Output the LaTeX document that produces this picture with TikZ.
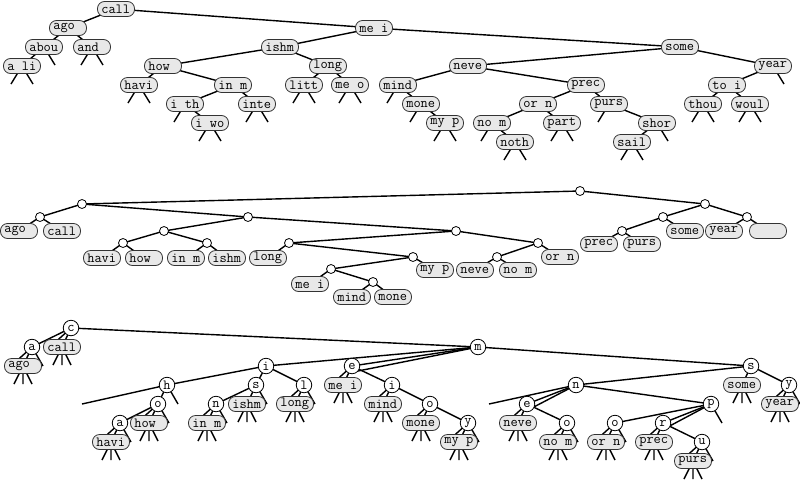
\documentclass[tikz,border=0pt]{standalone}
\usepackage{fontspec}
\pgfdeclarelayer{bg}
\pgfsetlayers{bg,main}
\newcommand\ed[2]{\draw[ln] (#1.center) -- (#2.center);}
\newcommand\stubL[1]{\draw[ln] (#1.center) -- ++(-11,18);}
\newcommand\stubR[1]{\draw[ln] (#1.center) -- ++(11,18);}
\newcommand\cstubL[1]{\draw[ln] (#1.center) -- ++(-21,19);}
\newcommand\cstubR[1]{\draw[ln] (#1.center) -- ++(11,19);}
\newcommand\keystubs[1]{\draw[ln] (#1.center) -- ++(-9,18) (#1.center) -- ++(0,18) (#1.center) -- ++(9,18);}
\newcommand\sps{\hspace*{0.525em}}
\begin{document}
\begin{tikzpicture}[x=1pt,y=-1pt,
  kb/.style={draw=black!80, fill=black!9, line width=0.8pt, rounded corners=7pt,
    text width=29.4pt, align=left, inner xsep=3.8pt, inner ysep=0pt, minimum height=15pt,
    font=\ttfamily\fontsize{14}{14}\selectfont, text=black},
  sc/.style={circle, draw=black, fill=white, line width=0.8pt, minimum size=9pt, inner sep=0pt},
  lc/.style={circle, draw=black, fill=white, line width=0.8pt, minimum size=15.5pt, inner sep=0pt,
    font=\ttfamily\fontsize{14}{14}\selectfont},
  ln/.style={line width=1.4pt, black}]
\useasboundingbox (0,0) rectangle (800,480);
% ---------------- top tree ----------------
\node[kb] (tcall) at (116,9) {call};
\node[kb] (tago) at (68,28) {ago};
\node[kb] (tmei) at (374,28) {me\sps i};
\node[kb] (tabou) at (44,47) {abou};
\node[kb] (tand) at (92,47) {and};
\node[kb] (tishm) at (280,47) {ishm};
\node[kb] (tsome) at (680,47) {some};
\node[kb] (tali) at (22,66) {a\sps li};
\node[kb] (thow) at (163,66) {how};
\node[kb] (tlong) at (328,66) {long};
\node[kb] (tneve) at (468,66) {neve};
\node[kb] (tyear) at (773,66) {year};
\node[kb] (thavi) at (139,85) {havi};
\node[kb] (tinm) at (233,85) {in\sps m};
\node[kb] (tlitt) at (304,85) {litt};
\node[kb] (tmeo) at (350,85) {me\sps o};
\node[kb] (tmind) at (398,85) {mind};
\node[kb] (tprec) at (586,85) {prec};
\node[kb] (ttoi) at (727,85) {to\sps i};
\node[kb] (tith) at (185,104) {i\sps th};
\node[kb] (tinte) at (257,104) {inte};
\node[kb] (tmone) at (421,104) {mone};
\node[kb] (torn) at (538,104) {or\sps n};
\node[kb] (tpurs) at (609,104) {purs};
\node[kb] (tthou) at (703,104) {thou};
\node[kb] (twoul) at (750,104) {woul};
\node[kb] (tiwo) at (210,123) {i\sps wo};
\node[kb] (tmyp) at (445,123) {my\sps p};
\node[kb] (tnom) at (492,123) {no\sps m};
\node[kb] (tpart) at (562,123) {part};
\node[kb] (tshor) at (657,123) {shor};
\node[kb] (tnoth) at (515,142) {noth};
\node[kb] (tsail) at (632,142) {sail};
% ---------------- middle tree ----------------
\node[sc] (mr) at (580,191) {};
\node[sc] (m0) at (82,204) {};
\node[sc] (m1) at (705,204) {};
\node[sc] (m00) at (40,217) {};
\node[sc] (m01) at (248,217) {};
\node[sc] (m010) at (164,231) {};
\node[sc] (m011) at (456,231) {};
\node[sc] (m0100) at (123,243) {};
\node[sc] (m0101) at (207,243) {};
\node[sc] (m0110) at (289,243) {};
\node[sc] (m0111) at (538,243) {};
\node[sc] (m01101) at (413,257) {};
\node[sc] (m011010) at (331,269) {};
\node[sc] (m0110101) at (373,282) {};
\node[sc] (m01110) at (497,257) {};
\node[sc] (m10) at (663,217) {};
\node[sc] (m11) at (747,217) {};
\node[sc] (m100) at (622,231) {};
\node[kb] (mago) at (19,231) {ago};
\node[kb] (mcall) at (62,231) {call};
\node[kb] (mhavi) at (102,258) {havi};
\node[kb] (mhow) at (144,258) {how};
\node[kb] (minm) at (186,258) {in\sps m};
\node[kb] (mishm) at (227,258) {ishm};
\node[kb] (mlong) at (268,258) {long};
\node[kb] (mmyp) at (435,270) {my\sps p};
\node[kb] (mmei) at (310,284) {me\sps i};
\node[kb] (mmind) at (352,297) {mind};
\node[kb] (mmone) at (393,297) {mone};
\node[kb] (mneve) at (475,270) {neve};
\node[kb] (mnom) at (518,270) {no\sps m};
\node[kb] (morn) at (560,257) {or\sps n};
\node[kb] (mprec) at (599,244) {prec};
\node[kb] (mpurs) at (642,244) {purs};
\node[kb] (msome) at (685,231) {some};
\node[kb] (myear) at (724,231) {year};
\node[kb] (mempty) at (768,231) {};
% ---------------- bottom tree ----------------
\node[lc] (bc) at (71,328) {c};
\node[lc] (ba) at (32,347) {a};
\node[lc] (bm) at (478,347) {m};
\node[lc] (bi) at (266,366) {i};
\node[lc] (bh) at (167,385) {h};
\node[lc] (bo1) at (158,404) {o};
\node[lc] (ba2) at (120,423) {a};
\node[lc] (bs) at (256,385) {s};
\node[lc] (bn) at (216,404) {n};
\node[lc] (bl) at (304,385) {l};
\node[lc] (be) at (352,366) {e};
\node[lc] (bi2) at (392,385) {i};
\node[lc] (bo2) at (430,404) {o};
\node[lc] (by) at (468,423) {y};
\node[lc] (bs2) at (751,366) {s};
\node[lc] (bn2) at (576,385) {n};
\node[lc] (be2) at (527,404) {e};
\node[lc] (bo3) at (567,423) {o};
\node[lc] (bp) at (711,404) {p};
\node[lc] (bo4) at (615,423) {o};
\node[lc] (br) at (663,423) {r};
\node[lc] (bu) at (702,442) {u};
\node[lc] (by2) at (789,385) {y};
\node[kb] (bcall) at (62,347) {call};
\node[kb] (bago) at (23,366) {ago};
\node[kb] (bhow) at (149,423) {how};
\node[kb] (bhavi) at (111,442) {havi};
\node[kb] (bishm) at (247,404) {ishm};
\node[kb] (binm) at (207,423) {in\sps m};
\node[kb] (blong) at (295,404) {long};
\node[kb] (bmei) at (343,385) {me\sps i};
\node[kb] (bmind) at (383,404) {mind};
\node[kb] (bmone) at (421,423) {mone};
\node[kb] (bmyp) at (459,442) {my\sps p};
\node[kb] (bsome) at (742,385) {some};
\node[kb] (byear) at (780,404) {year};
\node[kb] (bneve) at (518,423) {neve};
\node[kb] (bnom) at (558,442) {no\sps m};
\node[kb] (born) at (606,442) {or\sps n};
\node[kb] (bprec) at (654,442) {prec};
\node[kb] (bpurs) at (693,461) {purs};
\begin{pgfonlayer}{bg}
% top tree edges
\ed{tcall}{tago} \ed{tcall}{tmei} \ed{tago}{tabou} \ed{tago}{tand} \ed{tabou}{tali}
\ed{tmei}{tishm} \ed{tmei}{tsome} \ed{tishm}{thow} \ed{tishm}{tlong}
\ed{thow}{thavi} \ed{thow}{tinm} \ed{tinm}{tith} \ed{tinm}{tinte} \ed{tith}{tiwo}
\ed{tlong}{tlitt} \ed{tlong}{tmeo} \ed{tsome}{tneve} \ed{tsome}{tyear}
\ed{tneve}{tmind} \ed{tneve}{tprec} \ed{tmind}{tmone} \ed{tmone}{tmyp}
\ed{tprec}{torn} \ed{tprec}{tpurs} \ed{torn}{tnom} \ed{torn}{tpart} \ed{tnom}{tnoth}
\ed{tpurs}{tshor} \ed{tshor}{tsail} \ed{tyear}{ttoi} \ed{ttoi}{tthou} \ed{ttoi}{twoul}
\stubR{tabou} \stubL{tand} \stubR{tand} \stubL{tali} \stubR{tali}
\stubL{thavi} \stubR{thavi} \stubL{tith} \stubL{tiwo} \stubR{tiwo}
\stubL{tinte} \stubR{tinte} \stubL{tlitt} \stubR{tlitt} \stubL{tmeo} \stubR{tmeo}
\stubL{tmind} \stubL{tmone} \stubL{tmyp} \stubR{tmyp} \stubL{tnom}
\stubL{tnoth} \stubR{tnoth} \stubL{tpart} \stubR{tpart} \stubL{tpurs} \stubR{tshor}
\stubL{tsail} \stubR{tsail} \stubR{tyear} \stubL{tthou} \stubR{tthou} \stubL{twoul} \stubR{twoul}
% middle tree edges
\ed{mr}{m0} \ed{mr}{m1} \ed{m0}{m00} \ed{m0}{m01} \ed{m00}{mago} \ed{m00}{mcall}
\ed{m01}{m010} \ed{m01}{m011} \ed{m010}{m0100} \ed{m010}{m0101}
\ed{m0100}{mhavi} \ed{m0100}{mhow} \ed{m0101}{minm} \ed{m0101}{mishm}
\ed{m011}{m0110} \ed{m011}{m0111} \ed{m0110}{mlong} \ed{m0110}{m01101}
\ed{m01101}{m011010} \ed{m01101}{mmyp} \ed{m011010}{mmei} \ed{m011010}{m0110101}
\ed{m0110101}{mmind} \ed{m0110101}{mmone} \ed{m0111}{m01110} \ed{m0111}{morn}
\ed{m01110}{mneve} \ed{m01110}{mnom} \ed{m1}{m10} \ed{m1}{m11} \ed{m10}{m100}
\ed{m10}{msome} \ed{m100}{mprec} \ed{m100}{mpurs} \ed{m11}{myear} \ed{m11}{mempty}
% bottom tree edges
\ed{bc}{bm} \ed{bc}{ba} \cstubL{bc} \ed{bc}{bcall}
\cstubL{ba} \ed{ba}{bago} \cstubR{ba}
\ed{bm}{bi} \ed{bm}{be} \draw[ln] (bm.center) -- ([shift={(1,6)}]be.center); \ed{bm}{bs2}
\ed{bi}{bh} \ed{bi}{bs} \ed{bi}{bl}
\draw[ln] (bh.center) -- ++(-85,19); \ed{bh}{bo1} \cstubR{bh}
\ed{bo1}{ba2} \cstubL{bo1} \ed{bo1}{bhow} \cstubR{bo1}
\cstubL{ba2} \ed{ba2}{bhavi} \cstubR{ba2}
\ed{bs}{bn} \ed{bs}{bishm} \cstubR{bs}
\cstubL{bn} \ed{bn}{binm} \cstubR{bn}
\cstubL{bl} \ed{bl}{blong} \cstubR{bl}
\cstubL{be} \ed{be}{bmei} \ed{be}{bi2}
\cstubL{bi2} \ed{bi2}{bmind} \ed{bi2}{bo2}
\cstubL{bo2} \ed{bo2}{bmone} \ed{bo2}{by}
\cstubL{by} \ed{by}{bmyp} \cstubR{by}
\ed{bs2}{bn2} \ed{bs2}{bsome} \ed{bs2}{by2}
\cstubL{by2} \ed{by2}{byear} \cstubR{by2}
\draw[ln] (bn2.center) -- ++(-87,19); \ed{bn2}{be2} \draw[ln] (bn2.center) -- ([shift={(1,6)}]be2.center); \ed{bn2}{bp}
\cstubL{be2} \ed{be2}{bneve} \ed{be2}{bo3}
\cstubL{bo3} \ed{bo3}{bnom} \cstubR{bo3}
\ed{bp}{bo4} \ed{bp}{br} \draw[ln] (bp.center) -- ([shift={(1,6)}]br.center); \cstubR{bp}
\cstubL{bo4} \ed{bo4}{born} \cstubR{bo4}
\cstubL{br} \ed{br}{bprec} \ed{br}{bu}
\cstubL{bu} \ed{bu}{bpurs} \cstubR{bu}
\keystubs{bcall} \keystubs{bago} \keystubs{bhow} \keystubs{bhavi} \keystubs{bishm}
\keystubs{binm} \keystubs{blong} \keystubs{bmei} \keystubs{bmind} \keystubs{bmone}
\keystubs{bmyp} \keystubs{bsome} \keystubs{byear} \keystubs{bneve} \keystubs{bnom}
\keystubs{born} \keystubs{bprec} \keystubs{bpurs}
\end{pgfonlayer}
\end{tikzpicture}
\end{document}
